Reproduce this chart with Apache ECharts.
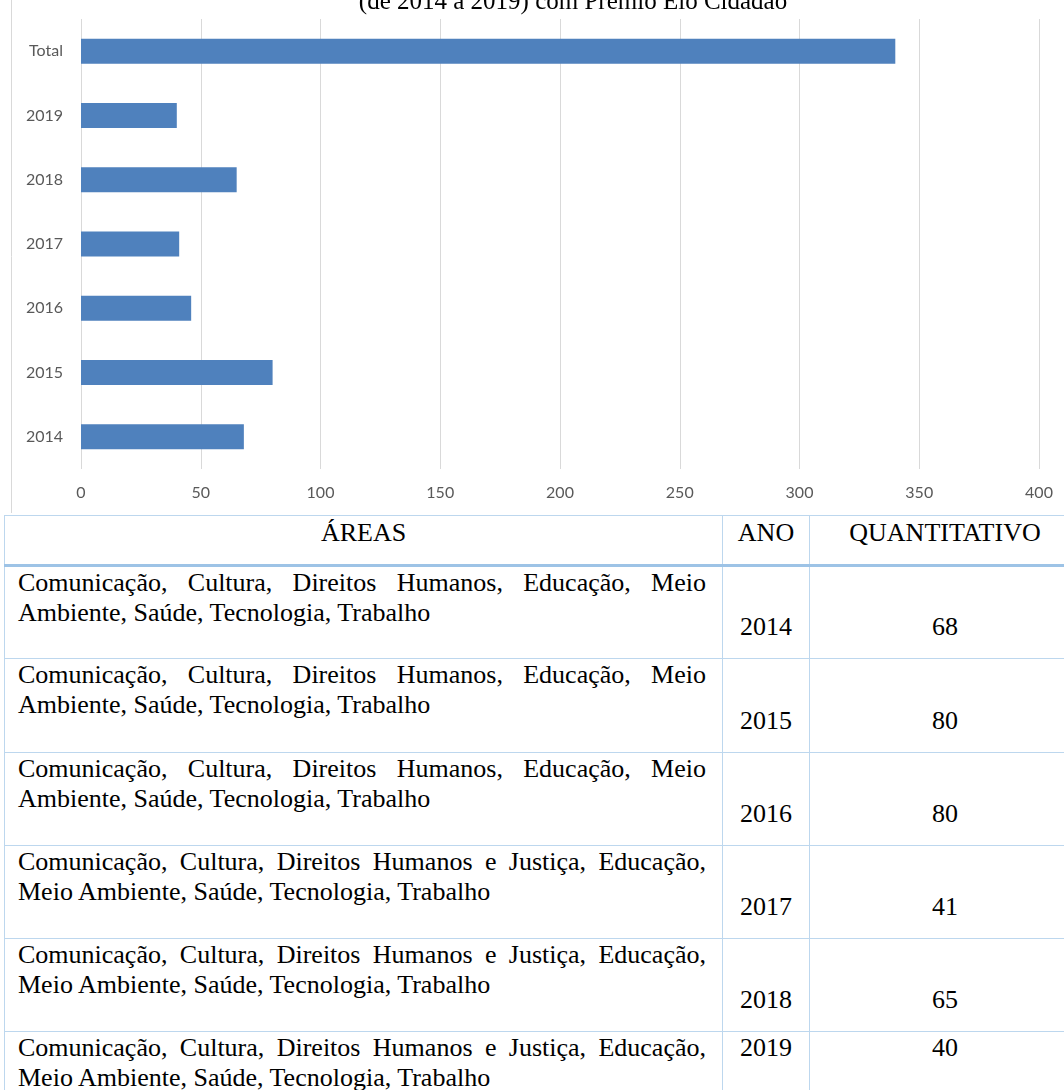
<!DOCTYPE html>
<html>
<head>
<meta charset="utf-8">
<title>Prêmio Elo Cidadão</title>
<script src="https://cdn.jsdelivr.net/npm/echarts@6/dist/echarts.min.js"></script>
<style>
	html, body { margin: 0; padding: 0; background: #fff; overflow: hidden; }
	body { width: 1064px; height: 1090px; position: relative; }
	#barChart { position: absolute; left: 0; top: 0; width: 1064px; height: 515px; }
	#tabela {
		position: absolute; left: 4px; top: 515px; width: 1076px;
		border-collapse: collapse; table-layout: fixed;
		font-family: "Liberation Serif", "Times New Roman", serif;
		font-size: 26px; line-height: 30px; color: #000;
	}
	#tabela th, #tabela td { border: 1px solid #bdd7ee; font-weight: normal; padding: 0; }
	#tabela tr.cab { height: 50px; }
	#tabela tr.corpo { height: 93.3px; }
	#tabela th { vertical-align: top; padding-top: 2px; border-bottom: 3px solid #9dc3e6; }
	#tabela td.area { vertical-align: top; padding: 1px 16px 0 13px; }
	#tabela td.num { text-align: center; padding-bottom: 16px; padding-top: 1px; }
	.linha1 { text-align: justify; text-align-last: justify; }
</style>
</head>
<body>
<div id="barChart"></div>
<table id="tabela"></table>
<script>
	// dados do gráfico
	var titulo = '(de 2014 a 2019) com Prêmio Elo Cidadão';
	var categorias = ['2014', '2015', '2016', '2017', '2018', '2019', 'Total'];
	var valores = [68, 80, 46, 41, 65, 40, 340];
	var eixoMin = 0, eixoMax = 400, eixoPasso = 50;

	// dados da tabela
	var cabecalho = ['ÁREAS', 'ANO', 'QUANTITATIVO'];
	var areas = [
		['Comunicação, Cultura, Direitos Humanos, Educação, Meio', 'Ambiente, Saúde, Tecnologia, Trabalho'],
		['Comunicação, Cultura, Direitos Humanos, Educação, Meio', 'Ambiente, Saúde, Tecnologia, Trabalho'],
		['Comunicação, Cultura, Direitos Humanos, Educação, Meio', 'Ambiente, Saúde, Tecnologia, Trabalho'],
		['Comunicação, Cultura, Direitos Humanos e Justiça, Educação,', 'Meio Ambiente, Saúde, Tecnologia, Trabalho'],
		['Comunicação, Cultura, Direitos Humanos e Justiça, Educação,', 'Meio Ambiente, Saúde, Tecnologia, Trabalho'],
		['Comunicação, Cultura, Direitos Humanos e Justiça, Educação,', 'Meio Ambiente, Saúde, Tecnologia, Trabalho']
	];
	var anos = ['2014', '2015', '2016', '2017', '2018', '2019'];
	var quantitativos = [68, 80, 80, 41, 65, 40];

	createBarChart();
	createTabela();

	function createBarChart() {
		var barChart = echarts.init(document.getElementById('barChart'));
		var eixoFonte = { color: '#595959', fontFamily: 'Lato, sans-serif', fontSize: 16 };
		var option = {
			animation: false,
			title: {
				text: titulo,
				left: 573,
				textAlign: 'center',
				top: -10,
				padding: 0,
				textStyle: { fontFamily: '"Liberation Serif", serif', fontWeight: 'normal', fontSize: 25, color: '#000' }
			},
			graphic: [{
				type: 'line',
				shape: { x1: 11.5, y1: 0, x2: 11.5, y2: 513 },
				style: { stroke: '#d9d9d9', lineWidth: 1 }
			}],
			grid: { left: 81, right: 25, top: 19, height: 450 },
			xAxis: {
				type: 'value',
				min: eixoMin,
				max: eixoMax,
				interval: eixoPasso,
				axisLine: { show: false },
				axisTick: { show: false },
				axisLabel: Object.assign({ margin: 16 }, eixoFonte),
				splitLine: { lineStyle: { color: '#d9d9d9', width: 1 } }
			},
			yAxis: {
				type: 'category',
				data: categorias,
				axisLine: { show: false },
				axisTick: { show: false },
				axisLabel: Object.assign({ margin: 18 }, eixoFonte)
			},
			series: [{
				type: 'bar',
				data: valores,
				barWidth: 25,
				itemStyle: { color: '#4f81bd' }
			}]
		};
		barChart.setOption(option, true);
	}

	function createTabela() {
		var tabela = document.getElementById('tabela');
		var html = '<colgroup><col style="width:718px"><col style="width:87px"><col style="width:271px"></colgroup>';
		html += '<tr class="cab">' + cabecalho.map(function (c) { return '<th>' + c + '</th>'; }).join('') + '</tr>';
		for (var i = 0; i < areas.length; i++) {
			// a última linha tem ano e quantitativo no topo da célula
			var va = i === areas.length - 1 ? 'top' : 'bottom';
			html += '<tr class="corpo">' +
				'<td class="area"><div class="linha1">' + areas[i][0] + '</div><div>' + areas[i][1] + '</div></td>' +
				'<td class="num" style="vertical-align:' + va + '">' + anos[i] + '</td>' +
				'<td class="num" style="vertical-align:' + va + '">' + quantitativos[i] + '</td>' +
				'</tr>';
		}
		tabela.innerHTML = html;
	}
</script>
</body>
</html>
